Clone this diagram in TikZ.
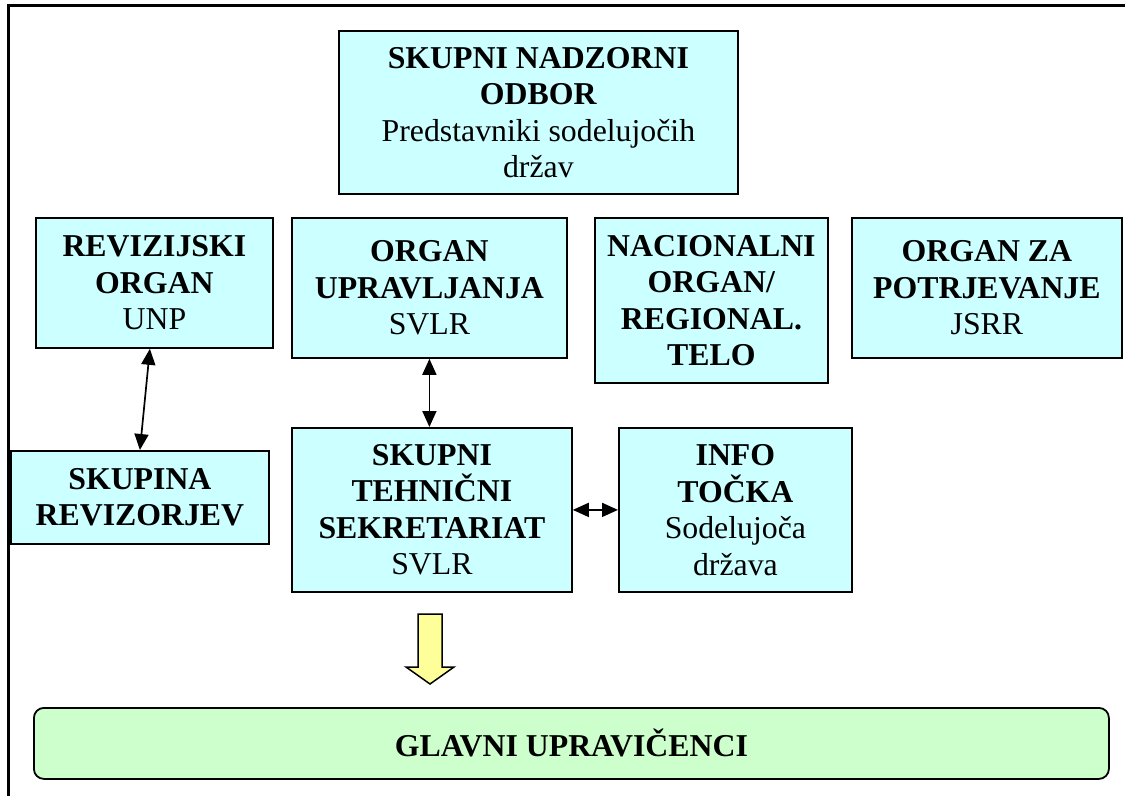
\documentclass[tikz,border=0pt]{standalone}
\usepackage{fontspec}
\setmainfont{Liberation Serif}
\usetikzlibrary{positioning,arrows.meta}
\definecolor{boxcyan}{HTML}{CCFFFF}
\definecolor{boxgreen}{HTML}{CCFFCC}
\definecolor{arrowyellow}{HTML}{FFFF99}

\begin{document}
\begin{tikzpicture}[x=1pt, y=-1pt, every node/.style={font=\fontsize{31.8}{36.5}\selectfont}]
    \tikzset{
        mynode/.style = {rectangle, line width=1.8pt, anchor=north west, align=center, text centered, draw=black, fill=boxcyan, inner sep=0pt},
        arrow/.style = {line width=1.7pt, <->, >={Triangle[length=16pt,width=14pt]}},
        blockarrow/.style = {line width=1.5pt, draw=black, fill=arrowyellow, line join=miter},
    }
    \useasboundingbox (0,0) rectangle (1125,796);
    \draw [line width=3pt] (8.5,796) -- (8.5,5.5) -- (1125,5.5);

    \node (odbor) [mynode, minimum width=399pt, minimum height=163pt] at (338,30) {\textbf{SKUPNI NADZORNI}\\\textbf{ODBOR}\\Predstavniki sodelujočih\\držav};
    \node (revizijski) [mynode, minimum width=237pt, minimum height=130pt] at (35,217) {\textbf{REVIZIJSKI}\\\textbf{ORGAN}\\UNP};
    \node (upravljanja) [mynode, minimum width=275pt, minimum height=140pt] at (291,217) {\textbf{ORGAN}\\\textbf{UPRAVLJANJA}\\SVLR};
    \node (nacionalni) [mynode, minimum width=233pt, minimum height=165pt] at (594,217) {\textbf{NACIONALNI}\\\textbf{ORGAN/}\\\textbf{REGIONAL.}\\\textbf{TELO}};
    \node (potrjevanje) [mynode, minimum width=270pt, minimum height=140pt] at (851,217) {\textbf{ORGAN ZA}\\\textbf{POTRJEVANJE}\\JSRR};
    \node (skupina) [mynode, minimum width=258pt, minimum height=93pt] at (10,450) {\textbf{SKUPINA}\\\textbf{REVIZORJEV}};
    \node (sekretariat) [mynode, minimum width=280pt, minimum height=164pt] at (291,427) {\textbf{SKUPNI}\\\textbf{TEHNIČNI}\\\textbf{SEKRETARIAT}\\SVLR};
    \node (info) [mynode, minimum width=233pt, minimum height=164pt] at (618,427) {\textbf{INFO}\\\textbf{TOČKA}\\Sodelujoča\\država};
    \node (glavni) [mynode, fill=boxgreen, rounded corners=10pt, minimum width=1075pt, minimum height=71pt] at (33,707) {\textbf{GLAVNI UPRAVIČENCI}};

    \draw [arrow] ([xshift=-4.5pt]revizijski.south) -- (skupina.north);
    \draw [arrow] (upravljanja.south) -- (upravljanja.south |- sekretariat.north);
    \draw [arrow] (sekretariat) -- (info);

    % yellow block arrow down to the beneficiaries
    \draw [blockarrow] (418,614) -- (442,614) -- (442,667) -- (454,667) -- (430,684) -- (406,667) -- (418,667) -- cycle;
\end{tikzpicture}
\end{document}
